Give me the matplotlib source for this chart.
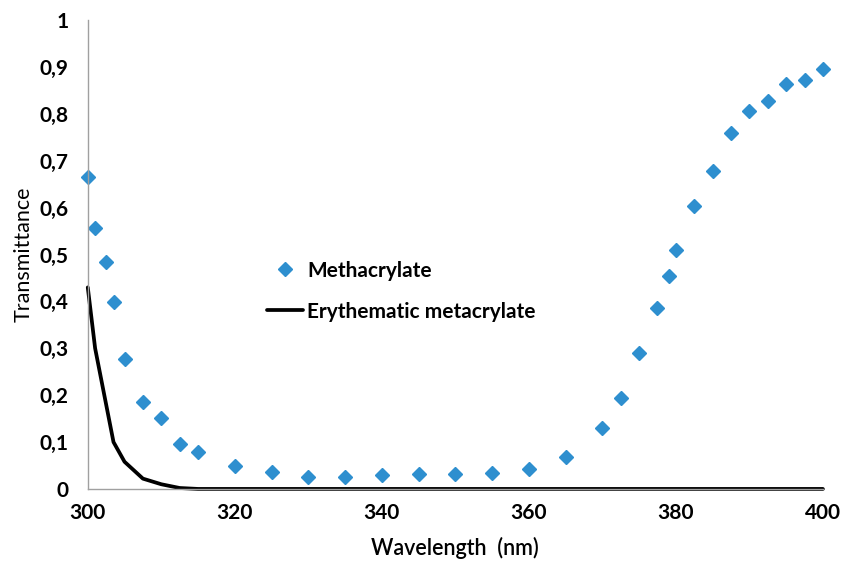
import matplotlib.pyplot as plt

plt.rcParams['font.family'] = ['Lato', 'DejaVu Sans']

# methacrylate transmittance (markers)
wl_meth = [300, 301, 302.5, 303.5, 305, 307.5, 310, 312.5, 315, 320, 325, 330, 335,
           340, 345, 350, 355, 360, 365, 370, 372.5, 375, 377.5, 379, 380, 382.5,
           385, 387.5, 390, 392.5, 395, 397.5, 400]
t_meth = [0.665, 0.556, 0.484, 0.399, 0.277, 0.185, 0.151, 0.096, 0.079, 0.049, 0.036,
          0.026, 0.026, 0.030, 0.032, 0.032, 0.034, 0.043, 0.068, 0.130, 0.194, 0.290,
          0.386, 0.454, 0.510, 0.603, 0.678, 0.759, 0.806, 0.827, 0.864, 0.872, 0.896]

# erythematic curve (line)
wl_ery = [300, 301, 303.5, 305, 307.5, 310, 312.5, 315, 320, 400]
t_ery = [0.43, 0.30, 0.10, 0.058, 0.022, 0.01, 0.002, 0.0, 0.0, 0.0]

yticks = [0, 0.1, 0.2, 0.3, 0.4, 0.5, 0.6, 0.7, 0.8, 0.9, 1]
ylabels = ["0", "0,1", "0,2", "0,3", "0,4", "0,5", "0,6", "0,7", "0,8", "0,9", "1"]
xticks = [300, 320, 340, 360, 380, 400]

fig = plt.figure(figsize=(8.44, 5.62), dpi=100)
ax = fig.add_axes([0.104, 0.13, 0.871, 0.834])

ax.plot(wl_meth, t_meth, "D", color="#2E8FCF", markersize=7.5, label="Methacrylate", clip_on=False)
ax.plot(wl_ery, t_ery, "-", color="black", linewidth=2.7, label="Erythematic metacrylate",
        solid_capstyle="round", clip_on=False)

ax.set_xlim(300, 400)
ax.set_ylim(0, 1)
ax.set_xticks(xticks)
ax.set_xticklabels([str(x) for x in xticks], fontsize=15, fontweight="bold")
ax.set_yticks(yticks)
ax.set_yticklabels(ylabels, fontsize=15, fontweight="bold")
ax.tick_params(axis="y", length=0, pad=14)
ax.tick_params(axis="x", length=0, pad=10)

for s in ["top", "right"]:
    ax.spines[s].set_visible(False)
for s in ["left", "bottom"]:
    ax.spines[s].set_color("#a0a0a0")
    ax.spines[s].set_linewidth(1)

ax.set_xlabel("Wavelength  (nm)", fontsize=15.5, labelpad=10, fontweight="semibold")
ax.set_ylabel("Transmittance", fontsize=15.5, labelpad=4)

ax.legend(loc="center left", bbox_to_anchor=(0.2435, 0.422), frameon=False,
          prop={"weight": "bold", "size": 15}, handlelength=1.75, labelspacing=1.0,
          handletextpad=0.2, borderpad=0, borderaxespad=0, numpoints=1)

fig.savefig("out.png", dpi=100)
